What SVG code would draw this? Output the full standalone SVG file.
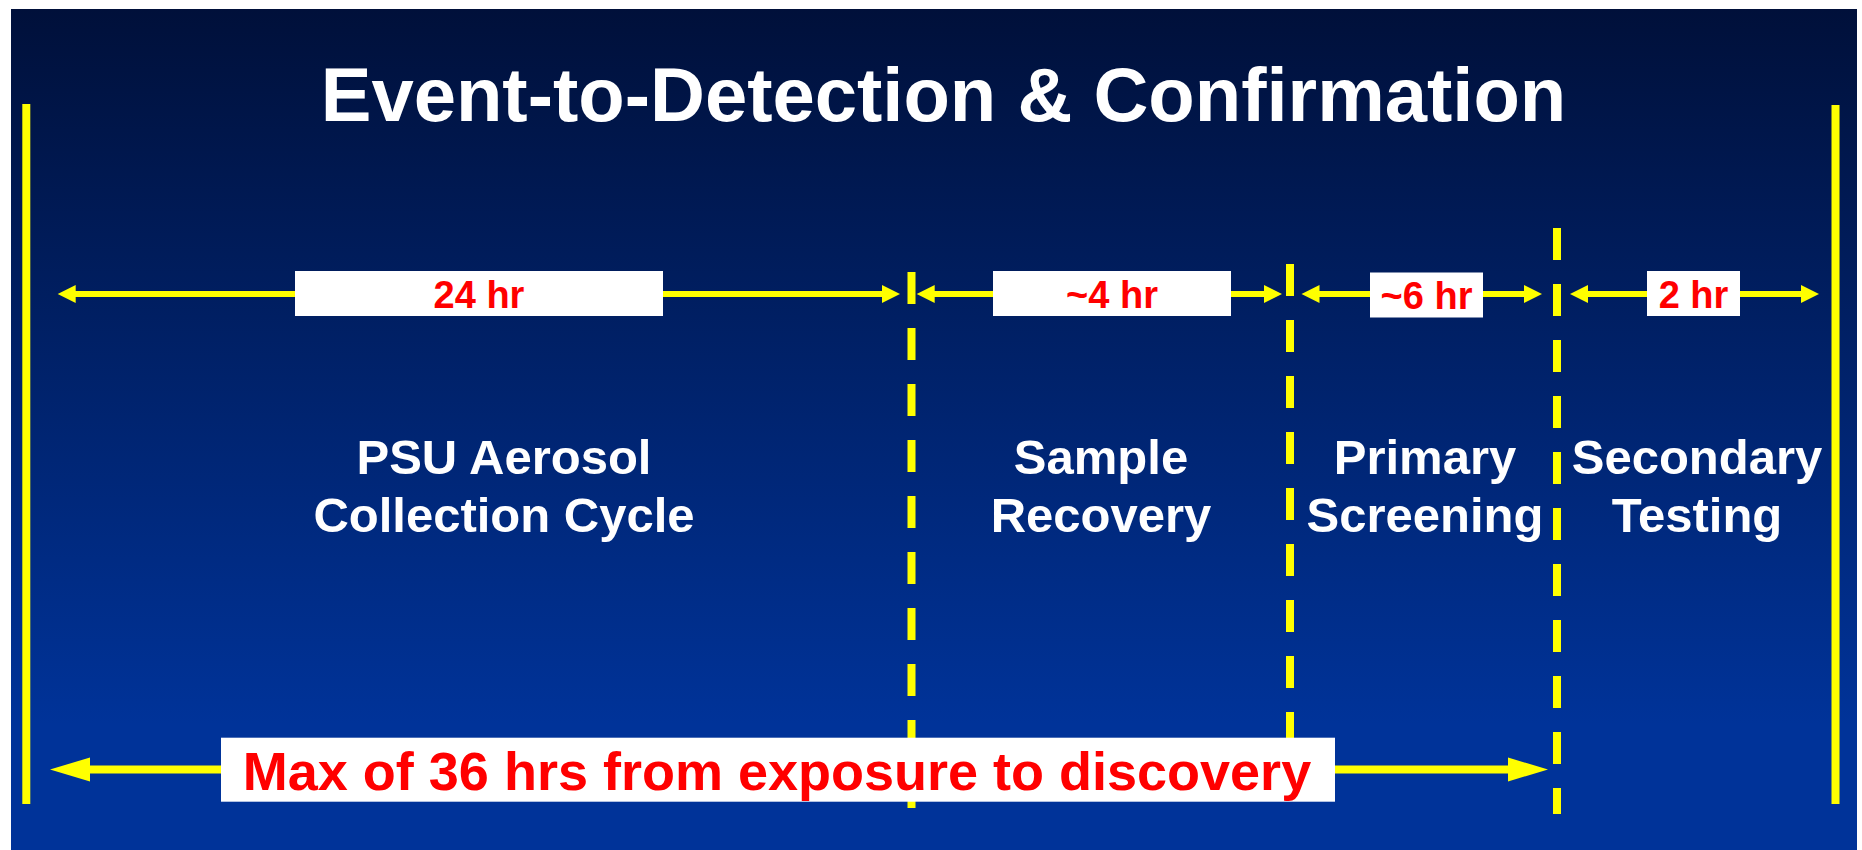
<svg xmlns="http://www.w3.org/2000/svg" width="1862" height="850" viewBox="0 0 1862 850">
  <defs>
    <linearGradient id="bg" x1="0" y1="0" x2="0" y2="1">
      <stop offset="0" stop-color="#00103a"/>
      <stop offset="0.85" stop-color="#003399"/>
      <stop offset="1" stop-color="#003399"/>
    </linearGradient>
    <style>
      .t { font-family: "Liberation Sans", Arial, sans-serif; font-weight: bold; text-anchor: middle; }
      .title { fill: #ffffff; font-size: 76px; }
      .col { fill: #ffffff; font-size: 49px; }
      .lbl { fill: #ff0000; font-size: 38px; }
      .big { fill: #ff0000; font-size: 54px; }
      .box { fill: #ffffff; }
      .solid { stroke: #ffff00; stroke-width: 8; fill: none; }
      .dash { stroke: #ffff00; stroke-width: 8; stroke-dasharray: 32 24; fill: none; }
      .shaft { stroke: #ffff00; stroke-width: 6; fill: none; }
      .shaftb { stroke: #ffff00; stroke-width: 8; fill: none; }
      .head { fill: #ffff00; }
    </style>
  </defs>

  <rect x="0" y="0" width="1862" height="850" fill="#ffffff"/>
  <rect x="11" y="9" width="1846" height="841" fill="url(#bg)"/>

  <g id="connectors">
    <!-- boundary lines -->
    <line class="solid" x1="26.3" y1="104" x2="26.3" y2="804"/>
    <line class="solid" x1="1835.5" y1="105" x2="1835.5" y2="804"/>
    <!-- dashed separators -->
    <line class="dash" x1="911.5" y1="272" x2="911.5" y2="808"/>
    <line class="dash" x1="1290" y1="264" x2="1290" y2="745"/>
    <line class="dash" x1="1557" y1="228" x2="1557" y2="814"/>

    <!-- 24 hr -->
    <line class="shaft" x1="72" y1="294" x2="885" y2="294"/>
    <polygon class="head" points="57.7,294 75.7,285 75.7,303"/>
    <polygon class="head" points="900,294 882,285 882,303"/>
    <!-- ~4 hr -->
    <line class="shaft" x1="930" y1="294" x2="1268" y2="294"/>
    <polygon class="head" points="916.7,294 934.7,285 934.7,303"/>
    <polygon class="head" points="1282,294 1264,285 1264,303"/>
    <!-- ~6 hr -->
    <line class="shaft" x1="1315" y1="294" x2="1528" y2="294"/>
    <polygon class="head" points="1301.5,294 1319.5,285 1319.5,303"/>
    <polygon class="head" points="1542,294 1524,285 1524,303"/>
    <!-- 2 hr -->
    <line class="shaft" x1="1584" y1="294" x2="1805" y2="294"/>
    <polygon class="head" points="1570,294 1588,285 1588,303"/>
    <polygon class="head" points="1819,294 1801,285 1801,303"/>

    <!-- bottom max arrow -->
    <line class="shaftb" x1="85" y1="769.5" x2="1513" y2="769.5"/>
    <polygon class="head" points="50,769.5 90,757.5 90,781.5"/>
    <polygon class="head" points="1548,769.5 1508,757.5 1508,781.5"/>
  </g>

  <g id="title">
    <text class="t title" x="943.5" y="121">Event-to-Detection &amp; Confirmation</text>
  </g>

  <g id="label-24hr">
    <rect class="box" x="295" y="271" width="368" height="45"/>
    <text class="t lbl" x="479" y="308">24 hr</text>
  </g>
  <g id="label-4hr">
    <rect class="box" x="993" y="271" width="238" height="45"/>
    <text class="t lbl" x="1112" y="308">~4 hr</text>
  </g>
  <g id="label-6hr">
    <rect class="box" x="1370" y="272.5" width="113" height="45"/>
    <text class="t lbl" x="1426.5" y="309">~6 hr</text>
  </g>
  <g id="label-2hr">
    <rect class="box" x="1647" y="271" width="93" height="45"/>
    <text class="t lbl" x="1693.5" y="308">2 hr</text>
  </g>

  <g id="phase-collection">
    <text class="t col" x="504" y="474">PSU Aerosol</text>
    <text class="t col" x="504" y="532">Collection Cycle</text>
  </g>
  <g id="phase-recovery">
    <text class="t col" x="1101" y="474">Sample</text>
    <text class="t col" x="1101" y="532">Recovery</text>
  </g>
  <g id="phase-primary">
    <text class="t col" x="1425" y="474">Primary</text>
    <text class="t col" x="1425" y="532">Screening</text>
  </g>
  <g id="phase-secondary">
    <text class="t col" x="1697" y="474">Secondary</text>
    <text class="t col" x="1697" y="532">Testing</text>
  </g>

  <g id="max-label">
    <rect class="box" x="221" y="737.7" width="1114" height="64"/>
    <text class="t big" x="777" y="790">Max of 36 hrs from exposure to discovery</text>
  </g>
</svg>
